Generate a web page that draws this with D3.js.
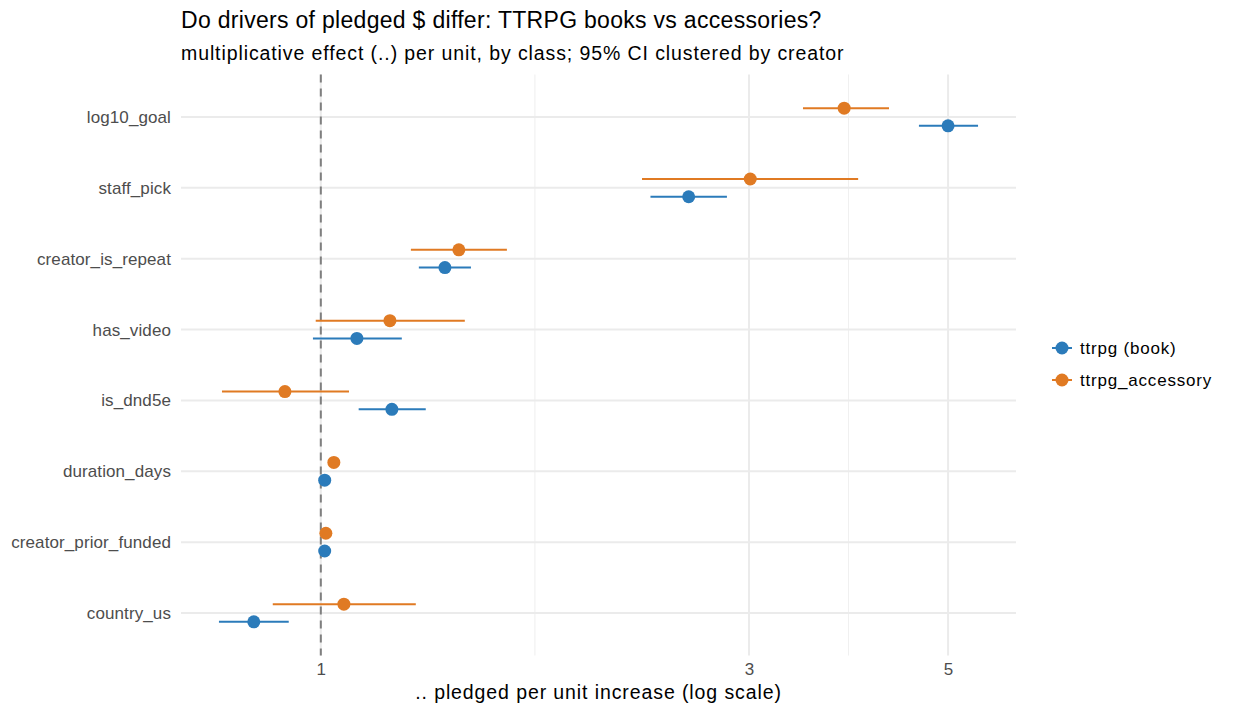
<!DOCTYPE html>
<html>
<head>
<meta charset="utf-8">
<script src="https://cdn.jsdelivr.net/npm/d3@7"></script>
<style>
  body { margin: 0; background: #fff; }
  svg { font-family: "Liberation Sans", Arial, sans-serif; }
</style>
</head>
<body>
<svg width="1235" height="715"></svg>
<script>
// predictors, top to bottom
const terms = ["log10_goal", "staff_pick", "creator_is_repeat", "has_video",
    "is_dnd5e", "duration_days", "creator_prior_funded", "country_us"];
const classes = ["ttrpg (book)", "ttrpg_accessory"];

// multiplicative effect + 95% CI, same order as terms
const bookEst = [5.00, 2.57, 1.375, 1.097, 1.20, 1.01, 1.01, 0.842];
const bookLo  = [4.64, 2.33, 1.286, 0.980, 1.102, 1.00, 1.003, 0.770];
const bookHi  = [5.40, 2.835, 1.47, 1.231, 1.309, 1.02, 1.017, 0.921];
const accEst  = [3.83, 3.01, 1.425, 1.194, 0.912, 1.034, 1.013, 1.061];
const accLo   = [3.446, 2.28, 1.26, 0.987, 0.776, 1.025, 1.005, 0.884];
const accHi   = [4.297, 3.97, 1.612, 1.447, 1.075, 1.043, 1.021, 1.276];

const xTicks = [1, 3, 5];
const minorTicks = [Math.sqrt(3), Math.sqrt(15)];

const colors = { "ttrpg (book)": "#2b7bba", "ttrpg_accessory": "#e07a23" };

const rows = [];
terms.forEach((t, i) => {
    rows.push({term: t, cls: classes[0], est: bookEst[i], lo: bookLo[i], hi: bookHi[i]});
    rows.push({term: t, cls: classes[1], est: accEst[i], lo: accLo[i], hi: accHi[i]});
});

const svg = d3.select("svg");
const margin = {left: 181, right: 1016, top: 74.5, bottom: 655.5};

// log scale with ggplot-like 5% expansion
const lmin = Math.log(d3.min(rows, d => d.lo));
const lmax = Math.log(d3.max(rows, d => d.hi));
const pad = (lmax - lmin) * 0.05;
const x = d3.scaleLog()
    .domain([Math.exp(lmin - pad), Math.exp(lmax + pad)])
    .range([margin.left, margin.right]);

const y = d3.scalePoint()
    .domain(terms)
    .range([margin.top, margin.bottom])
    .padding(0.6);
const step = y.step();
const dodge = d3.scalePoint().domain(["ttrpg_accessory", "ttrpg (book)"])
    .range([-step * 0.125, step * 0.125]);

// grid
const grid = svg.append("g").attr("id", "grid");
grid.selectAll("line.minor")
    .data(minorTicks)
    .enter().append("line")
    .attr("class", "minor")
    .attr("x1", d => x(d)).attr("x2", d => x(d))
    .attr("y1", margin.top).attr("y2", margin.bottom)
    .attr("stroke", "#f0f0f0").attr("stroke-width", 1.1);
grid.selectAll("line.vmajor")
    .data(xTicks)
    .enter().append("line")
    .attr("class", "vmajor")
    .attr("x1", d => x(d)).attr("x2", d => x(d))
    .attr("y1", margin.top).attr("y2", margin.bottom)
    .attr("stroke", "#ebebeb").attr("stroke-width", 2);
grid.selectAll("line.hmajor")
    .data(terms)
    .enter().append("line")
    .attr("class", "hmajor")
    .attr("x1", margin.left).attr("x2", margin.right)
    .attr("y1", d => y(d)).attr("y2", d => y(d))
    .attr("stroke", "#ebebeb").attr("stroke-width", 2);

// reference line at 1
svg.append("line")
    .attr("x1", x(1)).attr("x2", x(1))
    .attr("y1", margin.top).attr("y2", margin.bottom)
    .attr("stroke", "#7f7f7f")
    .attr("stroke-width", 2)
    .attr("stroke-dasharray", "8,6");

// axes
const xAxis = svg.append("g")
    .attr("transform", `translate(0,${margin.bottom})`)
    .call(d3.axisBottom(x).tickValues(xTicks).tickFormat(d3.format("d")).tickSize(0).tickPadding(7));
xAxis.select(".domain").remove();
xAxis.selectAll("text").attr("fill", "#4d4d4d").attr("font-size", 17);

const yAxis = svg.append("g")
    .attr("transform", `translate(${margin.left},0)`)
    .call(d3.axisLeft(y).tickSize(0).tickPadding(10));
yAxis.select(".domain").remove();
yAxis.selectAll("text").attr("fill", "#4d4d4d").attr("font-size", 17)
    .attr("letter-spacing", 0.1);

// intervals and points
const marks = svg.append("g").attr("id", "marks");
marks.selectAll("line")
    .data(rows)
    .enter().append("line")
    .attr("x1", d => x(d.lo)).attr("x2", d => x(d.hi))
    .attr("y1", d => y(d.term) + dodge(d.cls))
    .attr("y2", d => y(d.term) + dodge(d.cls))
    .attr("stroke", d => colors[d.cls])
    .attr("stroke-width", 2);
marks.selectAll("circle")
    .data(rows)
    .enter().append("circle")
    .attr("cx", d => x(d.est))
    .attr("cy", d => y(d.term) + dodge(d.cls))
    .attr("r", 6.5)
    .attr("fill", d => colors[d.cls]);

// titles
svg.append("text")
    .attr("x", margin.left).attr("y", 28)
    .attr("font-size", 23)
    .attr("letter-spacing", 0.3)
    .attr("fill", "#000")
    .text("Do drivers of pledged $ differ: TTRPG books vs accessories?");
svg.append("text")
    .attr("x", margin.left).attr("y", 60)
    .attr("font-size", 19.5)
    .attr("letter-spacing", 0.9)
    .attr("fill", "#000")
    .text("multiplicative effect (..) per unit, by class; 95% CI clustered by creator");
svg.append("text")
    .attr("x", (margin.left + margin.right) / 2).attr("y", 699)
    .attr("text-anchor", "middle")
    .attr("font-size", 19.5)
    .attr("letter-spacing", 0.9)
    .attr("fill", "#000")
    .text(".. pledged per unit increase (log scale)");

// legend
const legend = svg.append("g").attr("transform", "translate(1052,348)");
const keys = legend.selectAll("g")
    .data(classes)
    .enter().append("g")
    .attr("transform", (d, i) => `translate(0,${i * 32})`);
keys.append("line")
    .attr("x1", 0).attr("x2", 20)
    .attr("stroke", d => colors[d]).attr("stroke-width", 2);
keys.append("circle")
    .attr("cx", 10).attr("r", 6.5)
    .attr("fill", d => colors[d]);
keys.append("text")
    .attr("x", 28).attr("y", 6)
    .attr("font-size", 17)
    .attr("letter-spacing", 0.8)
    .attr("fill", "#000")
    .text(d => d);
</script>
</body>
</html>
